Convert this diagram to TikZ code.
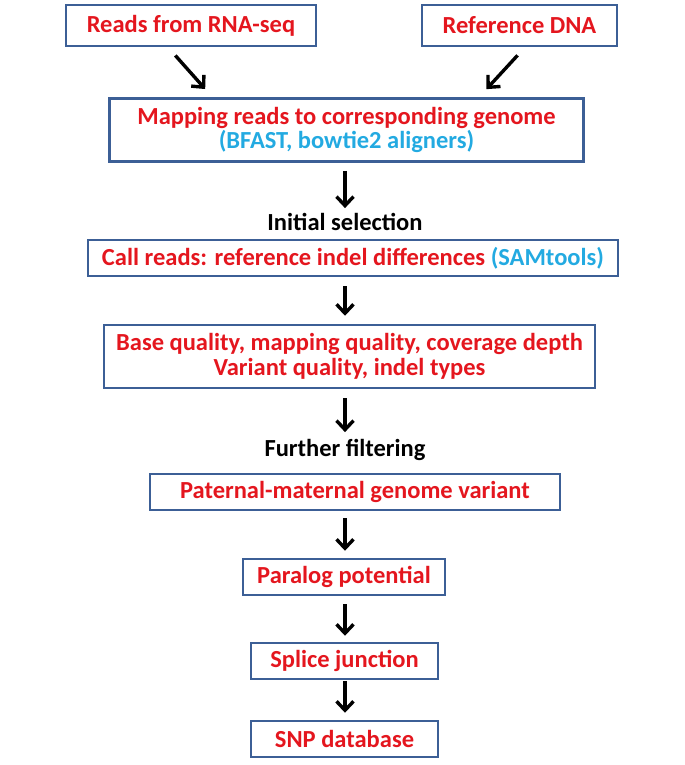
\documentclass[tikz,border=0pt]{standalone}
\usepackage{fontspec}
\setmainfont{Carlito}
\usetikzlibrary{arrows.meta}
\definecolor{txtred}{RGB}{228,22,30}
\definecolor{txtblue}{RGB}{35,170,225}
\definecolor{boxblue}{RGB}{60,95,150}
\tikzset{
  stepbox/.style={draw=boxblue, line width=2.5bp, rectangle, inner sep=0pt, align=center,
    text=txtred, font=\fontsize{24.6}{24.5}\selectfont\bfseries},
  lbl/.style={inner sep=0pt, align=center, text=black, font=\fontsize{24.6}{24.5}\selectfont\bfseries},
  arr/.style={line width=3.4bp, -{Straight Barb[length=9bp,width=17bp,line width=3.4bp]}}
}
\begin{document}
\begin{tikzpicture}[x=1bp,y=-1bp]
\useasboundingbox (0,0) rectangle (685,765);
\coordinate (ax) at (345,0);
\node[stepbox, minimum width=250bp, minimum height=41bp] (reads) at (191,25.5) {Reads from RNA-seq};
\node[stepbox, minimum width=195bp, minimum height=41bp] (refdna) at (519.5,25.5) {Reference DNA};
\node[stepbox, minimum width=474bp, minimum height=63bp] (map) at (346.5,130) {Mapping reads to corresponding genome\\\textcolor{txtblue}{(BFAST, bowtie2 aligners)}};
\node[lbl] (init) at (345,222) {Initial selection};
\node[stepbox, minimum width=530bp, minimum height=36bp] (call) at (353,258) {Call reads: reference indel differences \textcolor{txtblue}{(SAMtools)}};
\node[stepbox, minimum width=491bp, minimum height=63bp] (base) at (349.5,356.5) {Base quality, mapping quality, coverage depth\\Variant quality, indel types};
\node[lbl] (further) at (345,450) {Further filtering};
\node[stepbox, minimum width=410bp, minimum height=36bp] (pat) at (355,492) {Paternal-maternal genome variant};
\node[stepbox, minimum width=202bp, minimum height=36bp] (para) at (344,577) {Paralog potential};
\node[stepbox, minimum width=187bp, minimum height=36bp] (splice) at (344.5,661) {Splice junction};
\node[stepbox, minimum width=187bp, minimum height=36bp] (snp) at (344.5,739) {SNP database};

\draw[arr, shorten <=11bp, shorten >=11bp] ([xshift=-23bp]reads.south) -- ([xshift=-134bp]map.north);
\draw[arr, shorten <=11bp, shorten >=11bp] ([xshift=5.5bp]refdna.south) -- ([xshift=132.5bp]map.north);
\draw[arr, shorten <=8bp, shorten >=5bp] (map.south -| ax) -- (init.north -| ax);
\draw[arr, shorten <=9bp, shorten >=8bp] (call.south -| ax) -- (base.north -| ax);
\draw[arr, shorten <=9bp, shorten >=7bp] (base.south -| ax) -- (further.north -| ax);
\draw[arr, shorten <=7bp, shorten >=7bp] (pat.south -| ax) -- (para.north -| ax);
\draw[arr, shorten <=8bp, shorten >=6bp] (para.south -| ax) -- (splice.north -| ax);
\draw[arr, shorten <=1bp, shorten >=7bp] (splice.south -| ax) -- (snp.north -| ax);
\end{tikzpicture}
\end{document}
